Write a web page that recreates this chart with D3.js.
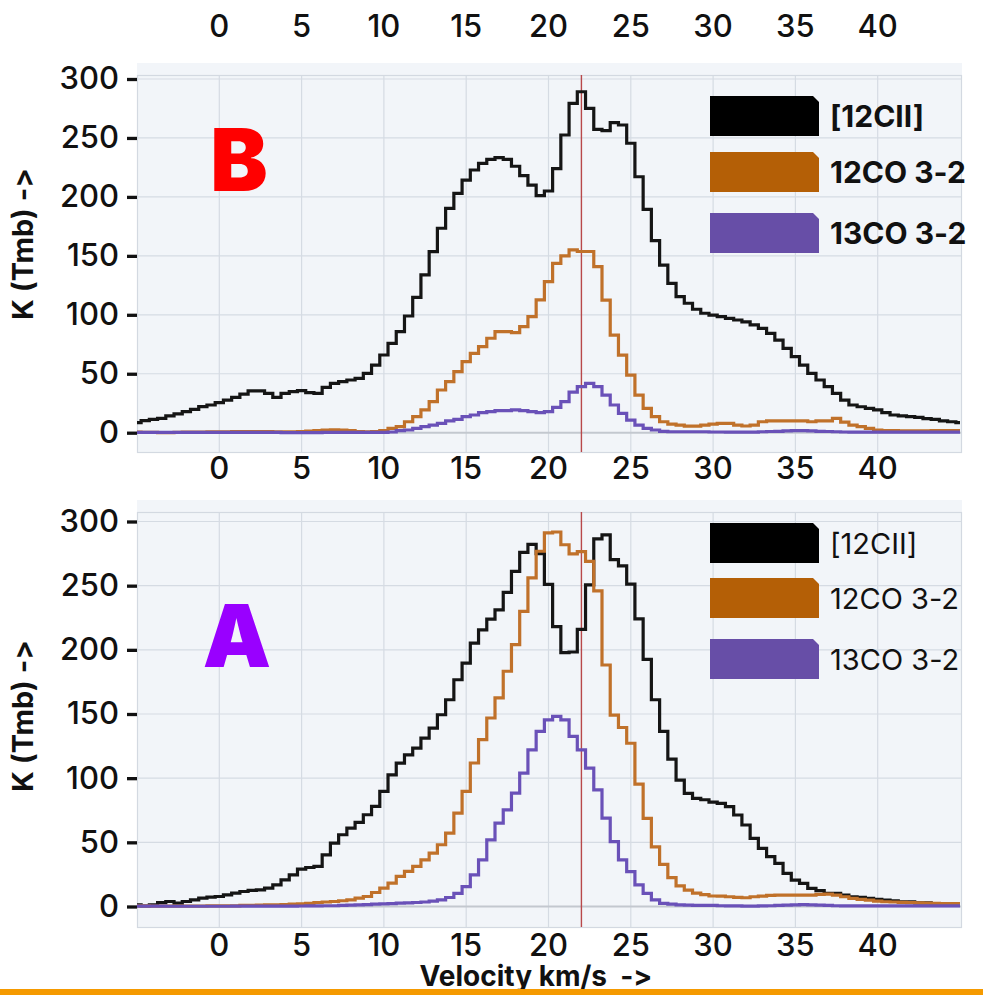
<!DOCTYPE html>
<html>
<head>
<meta charset="utf-8">
<script src="https://cdn.jsdelivr.net/npm/d3@7"></script>
<style>
  html, body { margin: 0; padding: 0; background: #ffffff; }
  svg { display: block; }
  text {
    font-family: Inter, "Open Sans", "DejaVu Sans", sans-serif;
    fill: #111;
    font-variant-ligatures: none;
    font-feature-settings: "calt" 0, "liga" 0;
    white-space: pre;
  }
</style>
</head>
<body>
<svg id="chart" width="983" height="995"></svg>
<script>
// Channel velocities (km/s), 0.5 km/s spectral channels
const velocity = [
  -5, -4.5, -4, -3.5, -3, -2.5, -2, -1.5, -1, -0.5,
  0, 0.5, 1, 1.5, 2, 2.5, 3, 3.5, 4, 4.5,
  5, 5.5, 6, 6.5, 7, 7.5, 8, 8.5, 9, 9.5,
  10, 10.5, 11, 11.5, 12, 12.5, 13, 13.5, 14, 14.5,
  15, 15.5, 16, 16.5, 17, 17.5, 18, 18.5, 19, 19.5,
  20, 20.5, 21, 21.5, 22, 22.5, 23, 23.5, 24, 24.5,
  25, 25.5, 26, 26.5, 27, 27.5, 28, 28.5, 29, 29.5,
  30, 30.5, 31, 31.5, 32, 32.5, 33, 33.5, 34, 34.5,
  35, 35.5, 36, 36.5, 37, 37.5, 38, 38.5, 39, 39.5,
  40, 40.5, 41, 41.5, 42, 42.5, 43, 43.5, 44, 44.5, 45
];

// Position B spectra, K (Tmb)
const ciiB = [
  8.5, 10.2, 11.3, 12.2, 14.2, 15.9, 17.9, 19.8, 22.1, 23.5,
  25.5, 27.7, 30, 32.8, 35.4, 35.4, 33.4, 30, 33.4, 34.8,
  35.7, 34, 33.4, 38.5, 41.9, 43.3, 44.7, 46.1, 50.4, 57.4,
  65.9, 75.8, 85.7, 99, 114.8, 133.8, 153.5, 173.4, 190.3, 203,
  214.3, 222.8, 228.5, 231.9, 233.3, 231.9, 226, 218, 210, 201,
  205, 224, 252.5, 279.4, 289.2, 275.1, 257.3, 256.2, 263, 261,
  245.5, 217.1, 189.5, 162.9, 142.2, 126.7, 115.4, 109.8, 104.7, 101.3,
  99.8, 98.4, 97, 95.6, 94, 91.5, 88.5, 84.3, 78.6, 71.6,
  64.5, 57.4, 50.4, 44.7, 39, 33.4, 27.7, 23.5, 22, 20.7,
  19.3, 17, 15, 14.2, 13.6, 13, 12, 11.3, 10, 9.3, 8.5
];
const co12B = [
  0.5, 0.3, 0.3, 0, 0, 0.3, 0.5, 0.5, 0.5, 0.8,
  0.8, 0.8, 1, 1, 1, 1, 1, 0.8, 0.8, 0.8,
  1, 1.3, 1.7, 2.3, 2.5, 2.3, 1.7, 1, 0.8, 1,
  1.7, 3.7, 5.1, 9.3, 13.6, 19.3, 26.3, 36.2, 43.3, 51.8,
  60.3, 67.3, 73, 80.1, 85.7, 85.7, 84.9, 90, 98.4, 112.6,
  128.1, 143.6, 150, 155, 153.7, 153.7, 140.8, 112.5, 82.8, 65.8,
  48.8, 31.9, 20.6, 13.6, 9.3, 7.3, 6.5, 5.6, 5.6, 6.5,
  7.3, 7.9, 7.9, 6.5, 5.7, 6.5, 9.3, 10, 10, 10,
  10, 10, 9.3, 10, 10, 12.2, 9, 6.5, 5.1, 3.7,
  2.3, 1.7, 1.7, 1.5, 1.5, 1.5, 1.5, 1.7, 1.7, 1.7, 1.7
];
const co13B = [
  0.3, 0.3, 0.3, 0.3, 0.3, 0.3, 0.3, 0.3, 0.3, 0.3,
  0.3, 0.3, 0.3, 0.3, 0.3, 0.3, 0.2, 0.2, 0, 0,
  0, 0, 0, 0.2, 0.3, 0.3, 0.3, 0.3, 0.3, 0.3,
  0.3, 0.6, 1.7, 2.3, 3.7, 5.1, 6.5, 7.9, 10, 11.3,
  13.6, 15, 17, 17.9, 18.7, 18.7, 19.3, 18.7, 17.9, 17,
  17.9, 21.5, 26.3, 34.5, 39, 41.8, 39, 31.9, 23.5, 16.4,
  10.7, 6.5, 3.7, 2.3, 1.2, 0.8, 0.8, 0.8, 0.8, 0.8,
  0.6, 0.6, 0.5, 0.5, 0.5, 0.5, 0.8, 1, 1.2, 1.5,
  1.7, 1.7, 1.5, 1.2, 1, 0.8, 0.6, 0.5, 0.5, 0.5,
  0.5, 0.5, 0.5, 0.5, 0.5, 0.5, 0.5, 0.5, 0.5, 0.5, 0.5
];

// Position A spectra, K (Tmb)
const ciiA = [
  1.2, 0.4, 1.2, 3, 3.9, 2.6, 3.9, 5.2, 6.5, 7.3,
  7.8, 9.1, 10.4, 11.7, 12.5, 13, 14.3, 16.9, 20.8, 24.7,
  29.1, 30.4, 31.2, 40.3, 49.4, 55.9, 61.1, 65.5, 71.5, 78,
  89.7, 102.6, 111.7, 118.2, 123.4, 131.2, 139, 149.4, 161.1, 176.7,
  189.7, 205.3, 215.6, 224, 231.2, 244.7, 261.1, 275.9, 282.1, 275,
  251, 218.1, 197.8, 198.3, 216, 250.6, 286.5, 289.6, 270.3, 265.5,
  251.2, 224.2, 192.6, 161.1, 136.5, 114.8, 98.5, 88.1, 84.2, 83.2,
  81.3, 80.4, 77.8, 71.3, 63.5, 53.1, 45.3, 38.8, 33.6, 25.8,
  20.6, 18, 14.1, 12.3, 10.2, 10.2, 8.9, 7.6, 7.1, 6.3,
  5.5, 5, 4.4, 3.7, 3.7, 2.9, 2.9, 2.3, 1.8, 1.3, 1
];
const co12A = [
  0.5, 0.5, 0.3, 0.3, 0.3, 0.3, 0.3, 0.3, 0.3, 0.5,
  0.5, 0.5, 0.5, 0.8, 0.8, 1, 1.3, 1.3, 1.5, 1.8,
  2.1, 2.5, 3.1, 3.5, 3.9, 4.5, 5.2, 6.5, 7.8, 10.9,
  14.3, 18.2, 23.4, 27.3, 31.2, 36.4, 41.6, 48.1, 57.2, 72.8,
  89.7, 111.8, 130, 146.9, 162.5, 183.3, 204.1, 230, 256, 276.8,
  291.2, 291.8, 281.9, 274.7, 276.5, 269, 246, 188.2, 149.2, 139.5,
  127.2, 95.3, 68.6, 46.5, 32.9, 22.5, 16, 12.7, 10.4, 9.2,
  8.2, 8.1, 7.6, 7.1, 6.8, 7.6, 8.1, 8.6, 8.9, 8.9,
  8.9, 8.9, 8.9, 9.4, 9.7, 8.9, 7.6, 6.3, 5.5, 5,
  4.2, 3.7, 3.5, 3.2, 3, 2.9, 2.6, 2.5, 2.3, 2.3, 2.3
];
const co13A = [
  0.3, 0.3, 0.3, 0.3, 0.2, 0.2, 0.2, 0.2, 0.2, 0.2,
  0.2, 0.2, 0.3, 0.3, 0.3, 0.3, 0.3, 0.3, 0.3, 0.3,
  0.4, 0.5, 0.5, 0.6, 0.6, 0.8, 1, 1.2, 1.5, 1.8,
  2, 2.3, 2.6, 2.9, 3.1, 3.5, 4.2, 5.1, 7, 10.3,
  15.5, 24.6, 36.3, 51.9, 64.9, 75.3, 88.3, 103.9, 122.1, 136.4,
  145.5, 148.1, 145.5, 132.5, 122.1, 107.8, 90.9, 68.8, 50.6, 36.3,
  27.2, 16.8, 10.3, 5.1, 2.5, 1.8, 1.2, 1, 0.8, 0.8,
  0.8, 0.6, 0.5, 0.5, 0.3, 0.3, 0.5, 0.6, 0.8, 1,
  1.3, 1.5, 1.3, 1, 0.8, 0.6, 0.5, 0.5, 0.5, 0.5,
  0.5, 0.5, 0.5, 0.5, 0.5, 0.5, 0.5, 0.5, 0.5, 0.5, 0.5
];

const seriesNames = ["[12CII]", "12CO 3-2", "13CO 3-2"];
const lineColors = ["#151515", "#c0712a", "#6a51b8"];
const swatchColors = ["#000000", "#b45f06", "#674ea7"];
const xTickValues = [0, 5, 10, 15, 20, 25, 30, 35, 40];
const yTickValues = [0, 50, 100, 150, 200, 250, 300];
const systemicVelocity = 22;
const yAxisTitle = "K (Tmb) ->";
const xAxisTitle = "Velocity km/s  ->";

const svg = d3.select("#chart");

// Shared horizontal layout
const plotLeft = 137, plotRight = 962;
const x = d3.scaleLinear().domain([0, 40]).range([219.3, 877.7]);

const panels = [
  {
    key: "B", values: [ciiB, co12B, co13B],
    bgTop: 63, top: 75, bottom: 452, yRange: [432.7, 79],
    letter: "B", letterColor: "#ff0000", letterX: 239, letterY: 191,
    legendTops: [96, 152, 213], legendBold: true,
    topLabelsY: 25, bottomLabelsY: 467, titleY: 244
  },
  {
    key: "A", values: [ciiA, co12A, co13A],
    bgTop: 500, top: 512, bottom: 927, yRange: [906.5, 521.5],
    letter: "A", letterColor: "#9900ff", letterX: 237, letterY: 667,
    legendTops: [523, 578, 639], legendBold: false,
    topLabelsY: null, bottomLabelsY: 944, titleY: 716
  }
];

panels.forEach(p => {
  const y = d3.scaleLinear().domain([0, 300]).range(p.yRange);
  const g = svg.append("g").attr("class", "panel-" + p.key);

  // plot background
  g.append("rect")
    .attr("x", plotLeft).attr("y", p.bgTop)
    .attr("width", plotRight - plotLeft).attr("height", p.bottom - p.bgTop + 1)
    .attr("fill", "#f2f5f9");

  // gridlines
  g.append("g").selectAll("line").data(xTickValues).join("line")
    .attr("x1", d => x(d)).attr("x2", d => x(d))
    .attr("y1", p.top).attr("y2", p.bottom)
    .attr("stroke", "#d5dbe3").attr("stroke-width", 1.2);
  g.append("g").selectAll("line").data(yTickValues).join("line")
    .attr("x1", plotLeft).attr("x2", plotRight)
    .attr("y1", d => y(d)).attr("y2", d => y(d))
    .attr("stroke", d => d === 0 ? "#c3c8cf" : "#d5dbe3")
    .attr("stroke-width", d => d === 0 ? 2 : 1.2);
  g.append("rect")
    .attr("x", plotLeft + 0.5).attr("y", p.top + 0.5)
    .attr("width", plotRight - plotLeft - 1).attr("height", p.bottom - p.top)
    .attr("fill", "none").attr("stroke", "#d3d9e1").attr("stroke-width", 1.2);

  // systemic velocity marker
  g.append("line")
    .attr("x1", x(systemicVelocity)).attr("x2", x(systemicVelocity))
    .attr("y1", p.top).attr("y2", p.bottom)
    .attr("stroke", "#b8484a").attr("stroke-width", 1.4);

  // spectra as step histograms
  const clipId = "clip-" + p.key;
  g.append("clipPath").attr("id", clipId).append("rect")
    .attr("x", plotLeft).attr("y", p.top)
    .attr("width", plotRight - plotLeft).attr("height", p.bottom - p.top);
  const line = d3.line()
    .x((d, i) => x(velocity[i]))
    .y(d => y(d))
    .curve(d3.curveStep);
  g.append("g").attr("clip-path", `url(#${clipId})`)
    .selectAll("path").data(p.values).join("path")
    .attr("d", line)
    .attr("fill", "none")
    .attr("stroke", (d, i) => lineColors[i])
    .attr("stroke-width", 3.2)
    .attr("stroke-linejoin", "miter");

  // y axis: short ticks and labels
  const yAxis = d3.axisLeft(y).tickValues(yTickValues).tickSize(10).tickPadding(8);
  const ya = g.append("g").attr("transform", `translate(${plotLeft},0)`).call(yAxis);
  ya.select(".domain").remove();
  ya.selectAll(".tick line").attr("stroke", "#111").attr("stroke-width", 3.3);
  ya.selectAll(".tick text")
    .attr("font-size", 31).attr("font-weight", 500)
    .attr("font-family", "Inter, 'Open Sans', sans-serif").attr("fill", "#111");

  // x tick labels
  const labelRows = [p.topLabelsY, p.bottomLabelsY].filter(v => v !== null);
  labelRows.forEach(ly => {
    g.append("g").selectAll("text").data(xTickValues).join("text")
      .attr("x", d => x(d)).attr("y", ly)
      .attr("text-anchor", "middle").attr("dominant-baseline", "central")
      .attr("font-size", 31).attr("font-weight", 500)
      .text(d => d);
  });

  // y axis title
  g.append("text")
    .attr("transform", `translate(33,${p.titleY}) rotate(-90)`)
    .attr("text-anchor", "middle")
    .attr("font-size", 29).attr("font-weight", 700)
    .text(yAxisTitle);

  // panel letter
  g.append("text")
    .attr("x", p.letterX).attr("y", p.letterY)
    .attr("text-anchor", "middle")
    .attr("font-size", 86).attr("font-weight", 900)
    .style("fill", p.letterColor)
    .text(p.letter);

  // legend with chamfered swatches
  const lg = g.append("g");
  p.legendTops.forEach((t, i) => {
    const x0 = 710, x1 = 819, h = 40, c = 6;
    lg.append("path")
      .attr("d", `M${x0},${t} L${x1 - c},${t} L${x1},${t + c} L${x1},${t + h} L${x0},${t + h} Z`)
      .attr("fill", swatchColors[i]);
    lg.append("text")
      .attr("x", 830).attr("y", t + h / 2 + 10.5)
      .attr("font-size", p.legendBold ? 30 : 29)
      .attr("font-weight", p.legendBold ? 700 : 400)
      .text(seriesNames[i]);
  });
});

// x axis title
svg.append("text")
  .attr("x", 536).attr("y", 986)
  .attr("text-anchor", "middle")
  .attr("font-size", 28).attr("font-weight", 700)
  .text(xAxisTitle);

// bottom rule
svg.append("rect")
  .attr("x", 0).attr("y", 989).attr("width", 983).attr("height", 6)
  .attr("fill", "#f59a00");
</script>
</body>
</html>
